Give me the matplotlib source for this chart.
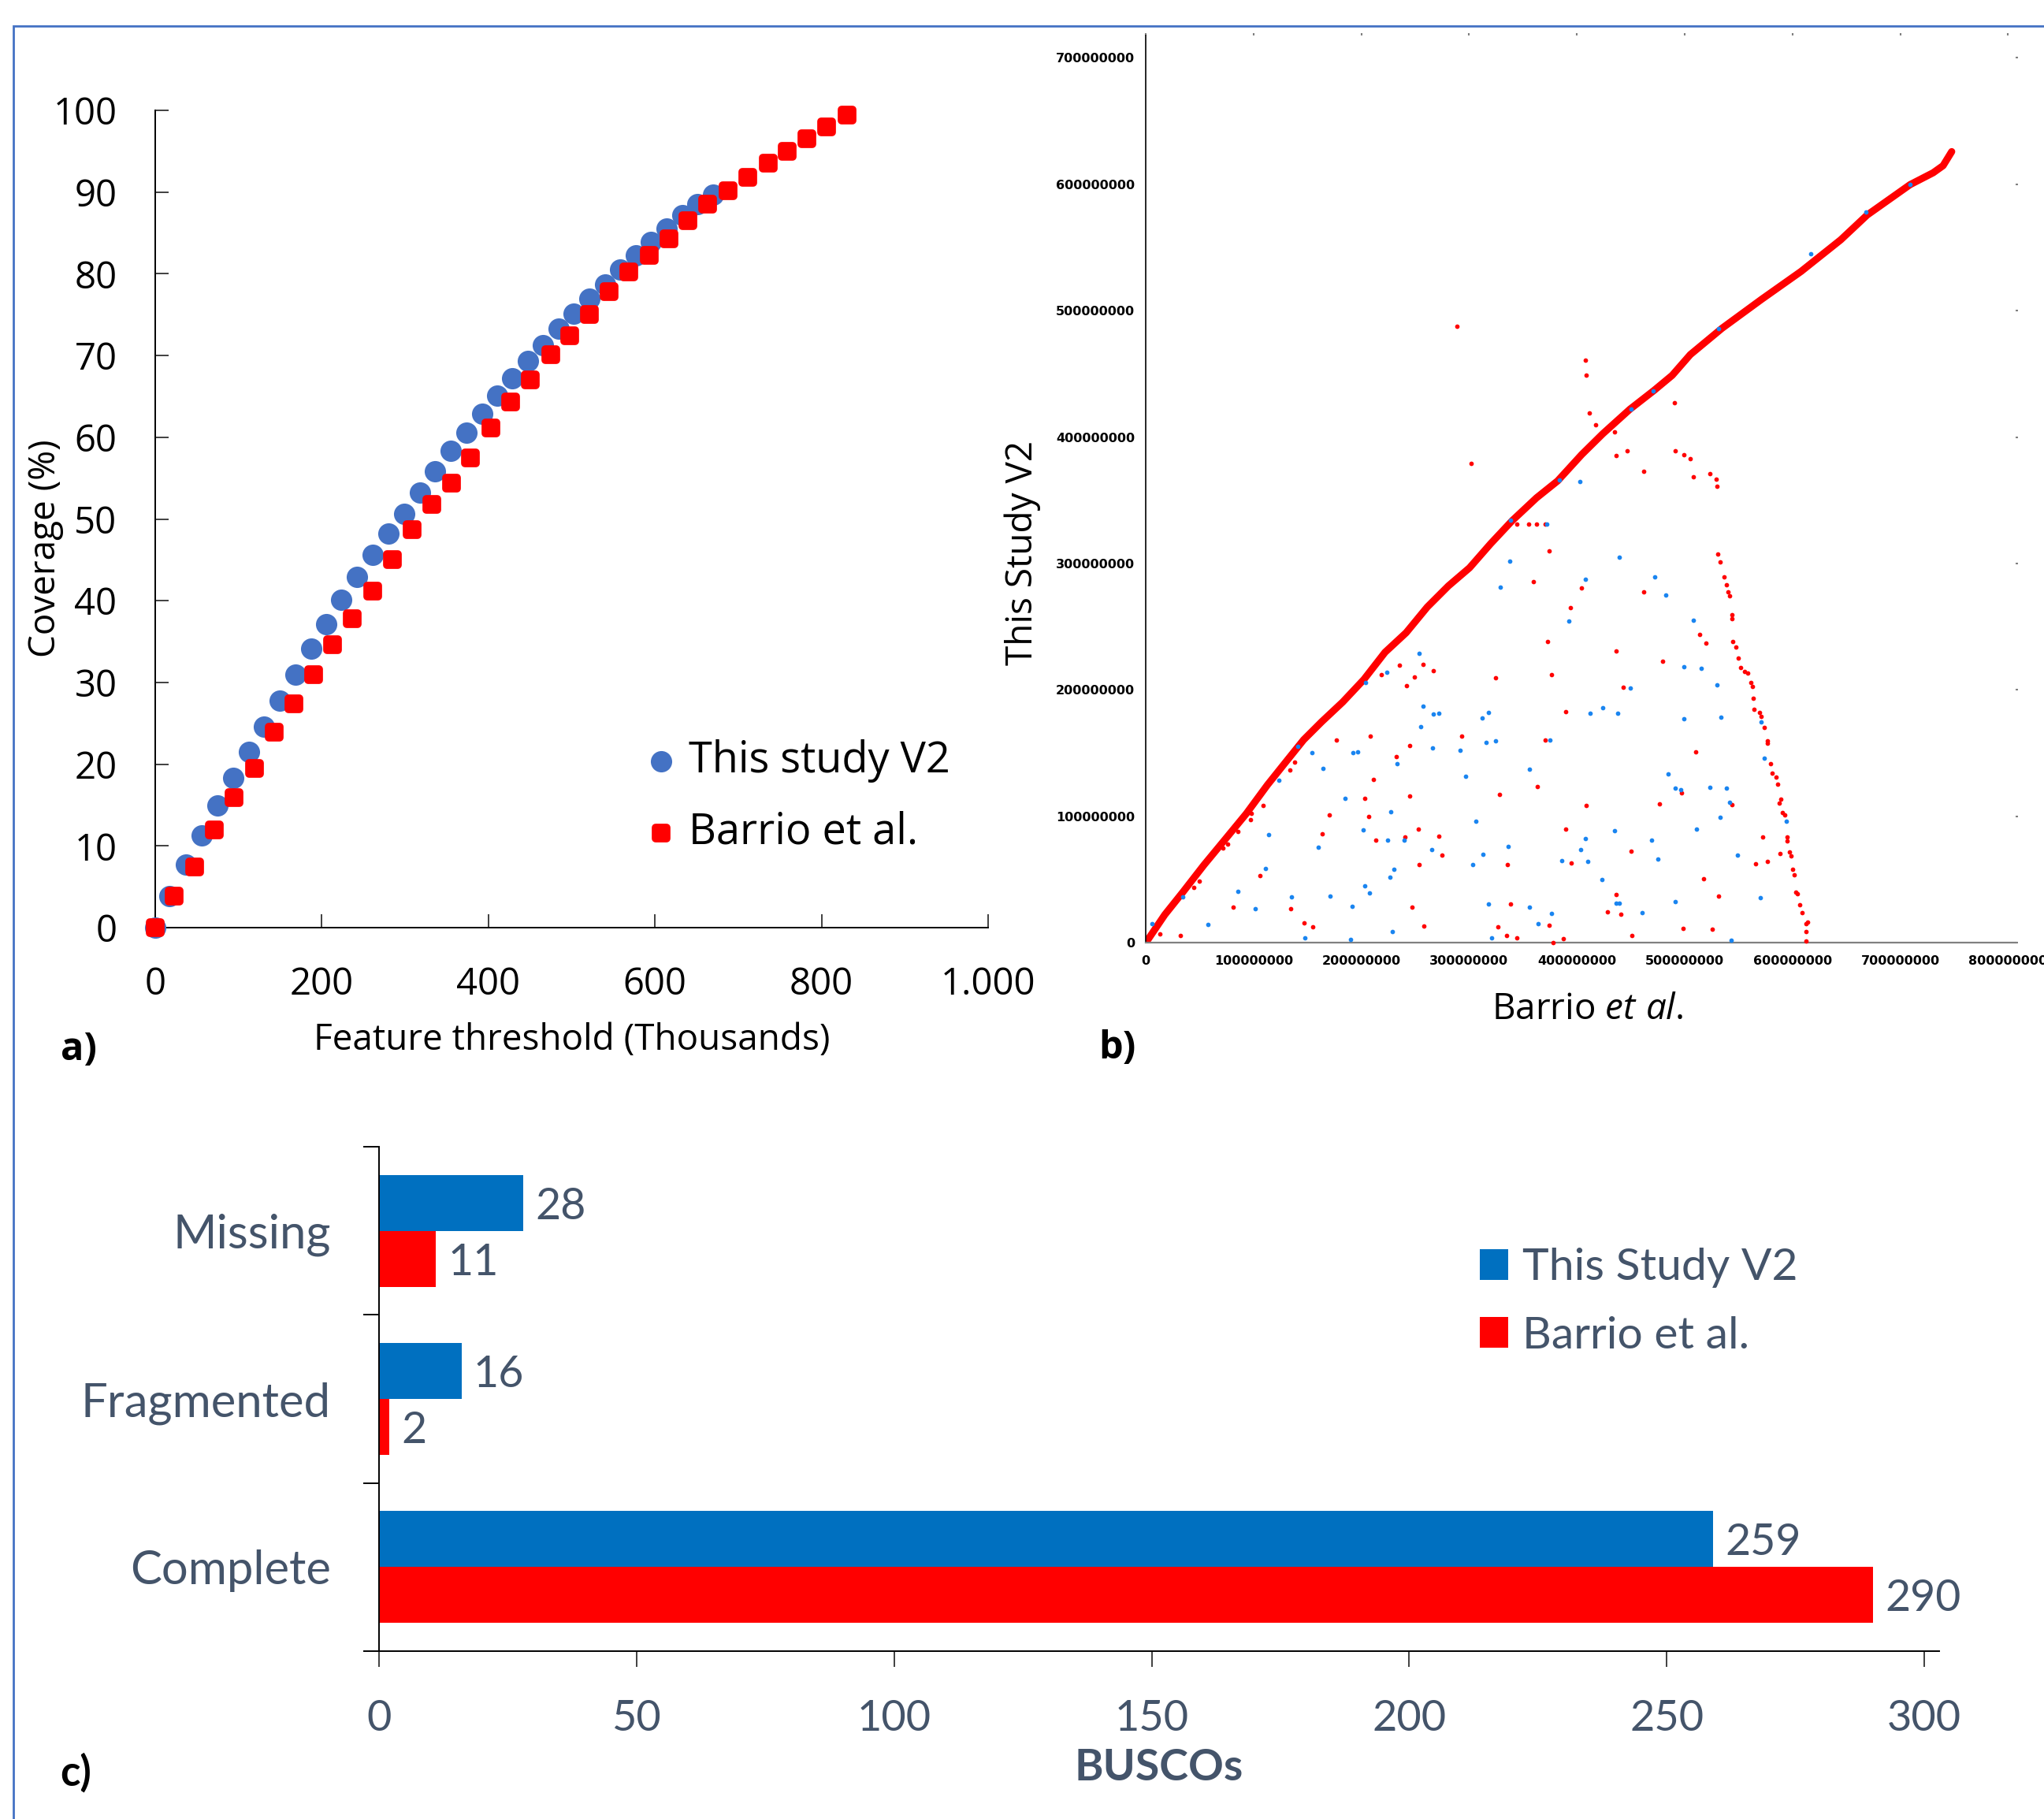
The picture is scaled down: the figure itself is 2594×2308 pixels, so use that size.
import numpy as np
import matplotlib
matplotlib.use('Agg')
import matplotlib.pyplot as plt
from matplotlib.markers import MarkerStyle
from matplotlib.patches import Rectangle
from matplotlib.ticker import FuncFormatter, MultipleLocator

plt.rcParams['font.family'] = ['Open Sans', 'DejaVu Sans']
plt.rcParams['mathtext.fontset'] = 'custom'
plt.rcParams['mathtext.rm'] = 'Open Sans'
plt.rcParams['mathtext.it'] = 'Open Sans:italic'

# ---- panel a: coverage vs feature threshold (thousands) ----
v2_x = [0, 17.3, 36.9, 55.7, 74.5, 93.3, 112.2, 131, 149.8, 168.6, 187.5, 205.5, 223.5,
        242.4, 261.2, 280, 298.8, 317.6, 335.7, 354.5, 373.3, 392.2, 410.2, 429, 447.8,
        465.9, 484.7, 502.7, 521.6, 540.4, 558.4, 577.3, 595.3, 614.1, 633, 651, 669.8]
v2_y = [0, 3.9, 7.75, 11.3, 14.9, 18.3, 21.5, 24.6, 27.8, 31.0, 34.1, 37.1, 40.1,
        42.9, 45.6, 48.2, 50.6, 53.2, 55.8, 58.3, 60.6, 62.9, 65.1, 67.2, 69.3,
        71.3, 73.3, 75.1, 77.0, 78.7, 80.5, 82.3, 83.9, 85.5, 87.2, 88.5, 89.7]
barrio_x = [0, 22.7, 47, 71.4, 95, 119, 142.7, 166.3, 189.8, 213.3, 236.9, 261.2,
            284.7, 308.2, 331.8, 355.3, 378.8, 403.1, 426.7, 450.2, 474.5, 498,
            521.6, 545.1, 568.6, 593, 616.5, 640, 663.5, 687.8, 711.4, 735.7,
            759.2, 782.7, 806.3, 830.6]
barrio_y = [0, 3.9, 7.4, 12.0, 15.9, 19.5, 23.9, 27.4, 31.0, 34.6, 37.8, 41.2,
            45.0, 48.7, 51.8, 54.4, 57.5, 61.1, 64.3, 67.0, 70.1, 72.4,
            75.0, 77.8, 80.2, 82.3, 84.3, 86.5, 88.5, 90.2, 91.8, 93.5,
            95.0, 96.5, 98.0, 99.4]

# ---- panel b: dot plot (positions in Mb) ----
diag_x = [0, 17.7, 34.5, 54.1, 73.7, 93.3, 112.9, 129.7, 146.5, 163.3, 182.8, 202.4,
          222, 241.6, 261.2, 280.8, 300.4, 320, 340.1, 362.5, 382.1, 404.5, 424,
          449.2, 471.6, 488.4, 505.2, 534.6, 571.3, 608, 644.8, 669.3, 709.1,
          730.5, 739.7, 747.7]
diag_y = [0, 22.3, 40.2, 61.7, 81.9, 102.2, 124.9, 142.8, 160.6, 174.9, 190.5, 208.3,
          229.8, 245.3, 265.6, 282.3, 296.6, 315.7, 334, 351.9, 365.3, 386.2, 402.6,
          422, 436.9, 448.8, 465.2, 486, 508.9, 531, 556, 575.6, 599.6,
          609, 614.6, 625.7]

red_dots_x = [13.5, 32.3, 44.9, 49.9, 71.5, 75.7, 85.5, 97, 98.3, 109.2, 105.9, 81,
              134.7, 138.1, 133.9, 147, 154.9, 163.8, 170.5, 177.2, 203, 206.6, 208.6,
              211.4, 213.1, 218.6, 232.1, 235.7, 240.5, 241.6, 245, 245, 247.2, 249.4,
              252.8, 253.9, 257, 258.4, 266.8, 271.8, 275.2, 292.8, 324.2, 327, 328.4,
              334.5, 335.6, 338.1, 344.6, 359.7, 363.3, 370.9, 373.1, 374, 374.5,
              376.8, 377.6, 387.1, 389.4, 389.9, 394.1, 395, 404.5, 408.7, 428.5,
              344.3, 354.9, 362.5, 370.3,
              436.1, 443.1, 436.6, 440.8, 450.6, 451.2, 461.8, 476.7, 479.7, 496.8,
              498.2, 510, 513.6, 517.2, 519.5, 525.3, 531.2, 544.1, 565.9, 572.4,
              577.1, 588.6,
              407.8, 408.9, 411.7, 417.3, 491.2, 499.6, 505.2, 508, 523.4, 529, 529.8,
              490.4, 461.8, 446.4, 436.1, 435.2, 289, 301.9,
              530.9, 533.2, 536.5, 540.2, 543.5, 544.4, 550, 555.6, 562.6, 564, 571,
              573.8, 576.6, 579.4, 585, 587.7, 590.5, 594.7, 598.9, 601.7, 604.5,
              608.7, 612.9, 612.9,
              538.8, 541.6, 543.5, 547.2, 552.2, 558.4, 561.2, 563.4, 569.5, 577.1,
              581.3, 586.3, 589.1, 592.5, 595.3, 597.5, 599.8, 603.1, 606.8, 613.8,
              612.9]
red_dots_y = [6.8, 6.1, 43.8, 48.6, 74.8, 78.4, 87.9, 97.4, 102.2, 108.9, 53.3, 28.3,
              27.1, 142.8, 136.8, 15.9, 12.8, 86, 101.5, 160.6, 114.1, 99.8, 163.7,
              129.2, 81.5, 211.9, 147.3, 219.8, 83.9, 203.6, 156.3, 116, 28.3, 210.5,
              89.8, 61.7, 220.3, 13.5, 215, 84.3, 69.3, 163.7, 209.5, 12.8, 117.7,
              5.6, 61.7, 30.7, 4, 285.8, 123.7, 160.6, 238.6, 310.2, 14,
              211.9, 0.4, 3.3, 89.8, 182.8, 265.1, 62.9, 280.6, 108.9, 24.7,
              331, 331, 331, 331,
              230.6, 202.3, 38, 22.8, 72.3, 6.1, 277.4, 109.9, 222.8, 118.5,
              11.5, 151.3, 243.7, 50.8, 237.2, 10.6, 36.8, 109, 62.8, 83.6,
              64.5, 70.8,
              460.7, 448.8, 419, 410, 389.2, 386.2, 383.2, 368.3, 371.3, 366.8, 360.9,
              427.3, 372.8, 389.2, 385.6, 404.1, 487.8, 379.3,
              307.2, 301.2, 289.3, 277.4, 256.5, 238.6, 225.2, 214.8, 202.9, 185, 179,
              170.1, 158.2, 141.8, 131.3, 110.5, 103, 83.6, 68.7, 53.8, 38.9,
              24, 15, 1.6,
              283.4, 274.4, 259.5, 234.2, 217.8, 213.3, 205.9, 193.4, 182, 159.6,
              134.3, 125.4, 113.4, 101.5, 80.7, 71.7, 58.3, 40.4, 30, 16.6,
              9.1]

blue_dots_x = [6, 34.5, 57.5, 85.5, 101.7, 110.9, 113.7, 123.5, 135.5, 147.9, 154.3,
               160.2, 164.4, 171.4, 184.8, 190.4, 191.5, 192.4, 196.8, 201.9, 203,
               203.8, 207.5, 223.4, 224.5, 226.5, 227.6, 229.9, 228.5, 232.9, 239.6,
               253.6, 254.8, 257.6, 265.1, 266.2, 267.1, 271.8, 297, 291.7, 303.2,
               306.5, 312.4, 313.2, 316, 318, 318.3, 320.8, 324.7, 329.2, 335.9,
               337.9, 355.8, 356.1, 364, 372, 374.8, 376.8, 386, 392.7, 402.5, 403.3,
               408.1, 408.1, 409.8, 412.6, 423, 424.1,
               437.5, 439.2, 449.5, 434.7, 436.6, 439.4, 460.4, 469.4, 472.2, 475.3,
               482.8, 484.8, 491.2, 496, 491.2, 499.6, 499.6, 508, 511.1, 515, 523.4,
               530.1, 532.6, 533.7, 538.8, 541.6, 543, 549.1, 570.1, 570.9, 573.8,
               594.2,
               450.6, 470.5, 383.5, 338.7, 140.8, 531.5, 617, 668, 709]
blue_dots_y = [15.2, 36.2, 14.7, 40.7, 27.1, 59.1, 85.5, 128.5, 36.6, 3.7, 150.4,
               75.5, 138, 36.9, 114.6, 2.5, 29, 150.4, 151.3, 89.1, 45,
               206, 39.5, 214.3, 81.5, 52.1, 103.4, 58.1, 9.2, 142, 81.5,
               229.1, 170.7, 186.9, 73.8, 154, 180.9, 181.6, 132, 152.3, 61.7,
               96, 177.6, 70, 158.3, 182.1, 30.7, 3.7, 160, 281.5, 76,
               302.1, 137.5, 28.3, 15.2, 331.2, 160.6, 23, 65.3, 254.4, 365, 73.6,
               287.3, 82.4, 64.5, 181.4, 49.8, 185.7,
               181.4, 305.1, 201.4, 89, 31.4, 31.4, 23.9, 81.5, 289.6, 66.6,
               275.3, 133.7, 122.4, 120.9, 32.4, 218.4, 177.5, 255, 90.2, 216.9, 123,
               203.8, 99.1, 178.4, 122.4, 111.4, 2.3, 69.3, 36, 174.5, 146.2,
               96.2,
               422, 436.3, 366, 334, 155.7, 486, 545, 578, 599.6]

# ---- panel c: BUSCO counts ----
busco_cats = ['Missing', 'Fragmented', 'Complete']
busco_v2 = [28, 16, 259]
busco_barrio = [11, 2, 290]

W, H = 2594, 2308


def box(l, t, r, b):
    return [l / W, 1 - b / H, (r - l) / W, (b - t) / H]


fig = plt.figure(figsize=(W / 100, H / 100), dpi=100)
fig.add_artist(Rectangle((17 / W, -0.1), 1.2, 1.1 - 33 / H, transform=fig.transFigure,
                         fill=False, ec='#4472C4', lw=2))

# ================= a =================
ax = fig.add_axes(box(197, 140, 1254, 1177))
ax.scatter(v2_x, v2_y, s=19.5 ** 2, color='#4472C4', lw=0, clip_on=False, zorder=3,
           label='This study V2')
ax.scatter(barrio_x, barrio_y, s=10.5 ** 2, marker=MarkerStyle('s', joinstyle='round'),
           color='#FF0000', edgecolor='#FF0000', linewidths=7, clip_on=False, zorder=4,
           label='Barrio et al.')
ax.set_xlim(0, 1000)
ax.set_ylim(0, 100)
ax.xaxis.set_major_locator(MultipleLocator(200))
ax.yaxis.set_major_locator(MultipleLocator(10))
ax.xaxis.set_major_formatter(FuncFormatter(lambda v, p: f"{v:,.0f}".replace(',', '.')))
for s in ['top', 'right']:
    ax.spines[s].set_visible(False)
for s in ['left', 'bottom']:
    ax.spines[s].set_linewidth(1.4)
ax.tick_params(direction='in', length=12, width=1.4, color='#404040',
               labelsize=34, pad=35)
ax.set_xlabel('Feature threshold (Thousands)', fontsize=33)
ax.set_ylabel('Coverage (%)', fontsize=33)
ax.xaxis.set_label_coords(0.5, -0.1379)
ax.xaxis.label.set_va('center')
ax.yaxis.set_label_coords(-0.1315, 0.464)
ax.yaxis.label.set_va('center')
ax.legend(loc='center left', bbox_to_anchor=(817 / W, 1 - 1011 / H),
          bbox_transform=fig.transFigure, frameon=False, fontsize=39,
          handlelength=0.8, handletextpad=0.25, labelspacing=0.66,
          borderpad=0, borderaxespad=0, scatterpoints=1)

# ================= b =================
bx = fig.add_axes(box(1454, 44.6, 2558, 1196.4))
bx.plot(diag_x, diag_y, color='#FF0000', lw=6.5, solid_capstyle='round', zorder=2)
bx.scatter(red_dots_x, red_dots_y, s=17, color='#FF0000', lw=0, zorder=3, clip_on=False)
bx.scatter(blue_dots_x, blue_dots_y, s=17, color='#1A85F0', lw=0, zorder=4, clip_on=False)
bx.set_xlim(0, 807)
bx.set_ylim(0, 717.8)
bx.xaxis.set_major_locator(MultipleLocator(100))
bx.yaxis.set_major_locator(MultipleLocator(100))
fmt_bp = FuncFormatter(lambda v, p: f"{v * 1e6:.0f}")
bx.xaxis.set_major_formatter(fmt_bp)
bx.yaxis.set_major_formatter(fmt_bp)
bx.spines['top'].set_visible(False)
bx.spines['right'].set_visible(False)
bx.spines['left'].set_linewidth(1.2)
bx.spines['bottom'].set_linewidth(1.6)
bx.spines['bottom'].set_color('#808080')
bx.tick_params(top=True, right=True, bottom=False, left=False, length=2, width=1.5,
               color='#808080', labelsize=11.5)
bx.tick_params(axis='x', pad=9)
bx.tick_params(axis='y', pad=8)
for lab in bx.get_xticklabels() + bx.get_yticklabels():
    lab.set_family('DejaVu Sans')
    lab.set_fontweight('bold')
bx.set_xlabel(r'Barrio $\mathit{et\ al.}$', fontsize=33)
bx.set_ylabel('This Study V2', fontsize=33)
bx.xaxis.set_label_coords(0.508, -0.0734)
bx.xaxis.label.set_va('center')
bx.yaxis.set_label_coords(-0.1413, 0.4301)
bx.yaxis.label.set_va('center')

# ================= c =================
cx = fig.add_axes(box(481, 1455, 2461, 2095))
pos = np.arange(len(busco_cats))
txt_c = '#44546A'
b1 = cx.barh(pos - 1 / 6, busco_v2, height=1 / 3, color='#0070C0', label='This Study V2')
b2 = cx.barh(pos + 1 / 6, busco_barrio, height=1 / 3, color='#FF0000', label='Barrio et al.')
for cont in (b1, b2):
    for t in cx.bar_label(cont, padding=11, fontsize=40, color=txt_c, family='Lato'):
        t.set_va('center_baseline')
cx.set_ylim(2.5, -0.5)
cx.set_xlim(0, 302.9)
cx.set_yticks(pos)
cx.set_yticklabels(busco_cats)
cx.set_yticks([-0.5, 0.5, 1.5, 2.5], minor=True)
cx.xaxis.set_major_locator(MultipleLocator(50))
for s in ['top', 'right']:
    cx.spines[s].set_visible(False)
for s in ['left', 'bottom']:
    cx.spines[s].set_linewidth(1.4)
cx.tick_params(axis='y', which='major', length=0, pad=29.5 + 14.4)
cx.tick_params(axis='y', which='minor', length=14.4, width=1.4, color='black')
cx.tick_params(axis='x', length=14.4, width=1.4, color='#404040', pad=29.5)
cx.tick_params(axis='x', labelsize=39, labelcolor=txt_c)
cx.tick_params(axis='y', labelsize=43, labelcolor=txt_c)
for lab in cx.get_xticklabels() + cx.get_yticklabels():
    lab.set_family('Lato')
cx.set_xlabel('BUSCOs', fontsize=40, fontweight='bold', color=txt_c, family='Lato')
cx.xaxis.set_label_coords(0.5, -0.2313)
cx.xaxis.label.set_va('center')
leg = cx.legend(loc='center left', bbox_to_anchor=(1878 / W, 1 - 1652 / H),
                bbox_transform=fig.transFigure, frameon=False,
                prop={'family': 'Lato', 'size': 41},
                handlelength=0.63, handleheight=0.67, handletextpad=0.31,
                labelspacing=0.62, borderpad=0, borderaxespad=0)
for t in leg.get_texts():
    t.set_color(txt_c)

# panel letters
fig.text(100 / W, 1 - 1332 / H, 'a)', fontsize=35, fontweight='bold', ha='center', va='center')
fig.text(1418 / W, 1 - 1330 / H, 'b)', fontsize=35, fontweight='bold', ha='center', va='center')
fig.text(96 / W, 1 - 2249 / H, 'c)', fontsize=38, fontweight='bold', ha='center', va='center',
         family='Lato')

fig.savefig('out.png', dpi=100)
